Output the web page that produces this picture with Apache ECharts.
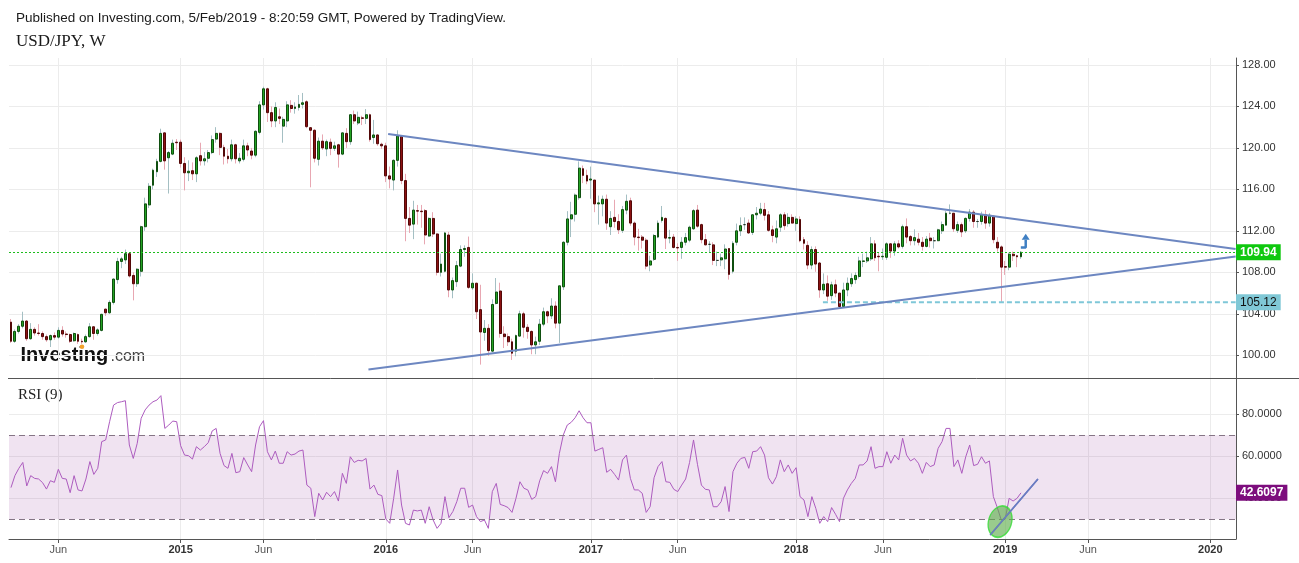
<!DOCTYPE html>
<html><head><meta charset="utf-8">
<script src="https://cdn.jsdelivr.net/npm/echarts@6/dist/echarts.min.js"></script>
<style>html,body{margin:0;padding:0;background:#fff}#c{width:1299px;height:563px}</style>
</head><body><div id="c"></div>
<script>
// ---------- data (weekly USD/JPY, first bar = week of 2014-03-10) ----------
const startDate = '2014-03-10';
const totalWeeks = 311; // categories incl. empty future weeks up to early 2020
const opens = [103.2,101.35,102.3,102.8,103.3,101.6,102.5,102.15,102.1,101.8,
101.5,101.9,101.75,102.4,102.05,102.0,101.4,102.0,101.35,101.3,
101.8,102.75,102.1,102.4,104.45,104.1,105.1,107.3,109.05,109.2,
109.8,107.7,106.9,108.1,112.4,114.5,116.4,117.7,118.7,121.45,
119.05,119.4,120.55,120.55,118.5,117.6,117.8,117.5,119.25,118.75,
119.0,119.55,120.85,121.4,120.05,119.2,118.95,120.3,118.75,118.9,
120.2,119.7,119.3,121.5,124.15,125.7,123.4,122.6,123.0,122.1,
122.6,124.1,123.8,123.9,124.2,124.45,121.95,121.7,118.9,120.65,
119.9,120.55,119.95,120.3,119.4,121.4,120.6,123.2,122.4,122.9,
122.85,123.2,121.0,121.25,120.35,120.2,117.3,116.9,118.8,121.1,
116.85,113.2,112.65,113.95,113.9,113.95,111.5,113.2,111.7,108.0,
108.1,111.6,106.3,107.1,108.6,110.2,110.4,106.5,106.95,104.4,
102.2,102.6,100.4,105.0,106.2,102.05,101.8,101.3,100.4,101.85,
104.0,102.7,102.3,101.0,101.35,103.0,104.2,103.8,104.75,103.1,
106.6,110.9,113.15,113.6,115.2,118.0,117.35,116.9,116.9,114.6,
114.6,115.05,112.4,113.3,112.9,112.05,114.0,114.9,112.75,111.4,
111.4,111.1,108.7,109.25,111.4,113.0,113.2,111.3,111.4,110.4,
110.4,110.9,111.1,112.2,114.0,112.6,111.15,110.7,110.65,109.15,
109.2,109.3,110.3,108.1,110.9,112.0,112.6,112.75,111.85,113.55,
113.7,114.05,113.55,112.1,111.4,112.35,113.55,112.7,113.3,112.7,
113.1,111.15,110.6,108.7,110.2,108.9,106.3,106.9,105.75,106.8,
106.0,104.7,106.3,106.9,107.3,107.6,109.05,109.1,109.3,110.75,
109.55,109.5,109.45,110.75,110.05,110.75,110.5,112.4,111.45,111.05,
111.2,110.9,110.5,111.3,111.05,111.05,112.0,112.55,113.7,113.7,
112.05,112.6,112.0,113.2,113.8,112.9,112.9,113.55,112.75,113.4,
110.9,110.45,108.55,108.5,109.75,109.6,109.5];
const closes = [101.35,102.3,102.8,103.3,101.6,102.5,102.15,102.1,101.8,101.5,
101.9,101.75,102.4,102.05,102.0,101.35,102.1,101.35,101.3,101.8,
102.75,102.1,102.45,103.95,104.1,105.1,107.35,109.05,109.3,109.8,
107.65,106.9,108.3,112.4,114.6,116.3,117.85,118.7,121.4,118.75,
119.55,120.45,120.5,118.5,117.6,117.75,117.5,119.05,118.75,118.95,
119.55,120.8,121.4,120.05,119.2,118.95,120.3,118.95,119.0,120.2,
119.8,119.3,121.6,124.15,125.7,123.4,122.6,123.9,122.85,122.75,
124.15,123.8,123.95,124.2,124.35,122.05,121.7,119.0,120.65,120.0,
120.6,119.95,120.2,119.4,121.45,120.6,123.2,122.6,122.95,122.85,
123.2,120.8,121.25,120.4,120.2,117.3,117.0,118.8,121.15,116.85,
113.2,112.55,114.0,113.9,113.85,111.6,113.2,111.7,108.0,108.8,
111.8,106.3,107.2,108.65,110.2,110.3,106.55,106.95,104.2,102.25,
102.6,100.45,104.9,106.1,102.1,101.8,101.3,100.2,101.9,104.0,
102.7,102.3,101.0,101.3,103.0,104.2,103.8,104.75,103.1,106.7,
110.9,113.15,113.55,115.45,118.05,117.35,116.8,117.0,114.6,114.7,
115.05,112.75,113.2,112.9,112.1,114.05,114.85,112.75,111.4,111.35,
111.1,108.6,109.1,111.55,112.75,113.3,111.3,111.35,110.4,110.35,
110.9,111.35,112.35,113.95,112.45,111.15,110.65,110.7,109.15,109.15,
109.4,110.25,107.8,110.8,112.0,112.5,112.6,111.8,113.55,113.7,
114.1,113.5,112.05,111.55,112.2,113.55,112.5,113.3,112.75,113.15,
111.05,110.8,108.7,110.2,108.8,106.3,106.85,105.7,106.8,106.0,
104.7,106.3,106.95,107.4,107.7,109.1,109.1,109.4,110.75,109.4,
109.5,109.55,110.75,110.05,110.75,110.45,112.4,111.4,111.05,111.35,
110.9,110.5,111.2,111.05,111.05,112.1,112.6,113.7,113.7,112.2,
112.6,111.9,113.2,113.8,112.9,112.9,113.55,112.75,113.5,111.15,
110.35,108.5,108.5,109.75,109.6,109.5,109.94];
const lows = [101.2,101.2,102.1,102.6,101.4,101.5,101.9,101.9,101.5,101.3,
100.8,101.5,101.6,101.8,101.7,101.2,101.3,101.1,101.1,101.2,
101.7,101.5,101.9,102.3,103.8,104.0,104.9,106.9,108.4,108.8,
107.5,105.3,106.6,107.6,112.0,114.2,116.0,117.2,118.6,117.9,
115.6,119.3,119.8,118.1,115.9,116.8,116.9,116.7,118.3,118.3,
118.6,119.4,120.5,119.3,118.4,118.5,118.7,118.5,118.5,118.7,
119.2,118.9,119.1,121.3,123.7,122.5,122.0,122.0,122.3,120.5,
122.0,123.4,123.3,123.6,123.8,121.9,116.2,118.6,118.3,119.8,
119.2,119.3,119.7,118.1,119.3,120.0,120.3,122.3,122.2,122.2,
122.3,120.6,120.4,120.2,119.9,116.7,116.1,115.9,118.2,116.5,
111.0,111.8,111.2,112.6,112.3,110.7,111.4,111.4,107.7,107.6,
108.0,105.6,105.5,106.6,108.5,109.5,106.4,106.3,103.5,99.1,
101.4,99.95,100.3,104.9,101.7,100.7,100.9,99.55,99.9,101.8,
101.7,101.6,100.1,100.1,101.0,102.8,103.1,103.5,102.6,101.2,
106.3,110.6,111.4,112.9,115.0,116.6,116.5,115.1,113.8,112.6,
113.4,112.1,111.6,112.3,111.7,111.8,113.6,112.5,110.6,110.1,
110.3,108.3,108.1,109.1,111.3,112.8,110.25,110.8,110.3,109.1,
109.3,110.6,110.9,112.1,112.3,110.8,110.6,109.9,108.7,108.6,
108.6,108.3,107.3,107.9,110.6,111.5,112.1,111.7,111.6,113.1,
113.5,113.0,111.9,110.9,110.8,111.9,112.1,112.4,112.7,112.0,
110.9,110.2,108.3,108.3,108.05,105.55,105.9,105.25,105.35,105.6,
104.6,104.6,105.7,106.6,106.9,107.4,108.5,108.9,109.1,109.1,
108.1,109.2,109.2,109.4,109.6,110.3,110.3,110.8,110.6,110.6,
110.6,110.1,110.4,110.4,110.3,111.0,111.7,112.5,113.6,111.9,
111.8,111.4,111.8,112.9,112.3,112.3,112.6,112.2,112.4,110.8,
110.0,105.12,107.75,108.2,109.1,108.5,109.3];
const highs = [103.5,102.5,103.0,104.2,103.4,103.1,102.7,103.0,102.3,102.0,
102.0,102.2,102.7,102.8,102.3,102.1,102.2,102.1,101.6,102.0,
103.1,102.8,102.6,104.0,104.5,105.3,107.4,109.4,109.5,110.2,
109.8,108.0,108.4,112.5,115.2,116.6,118.0,118.95,121.85,121.5,
119.7,120.8,120.85,120.8,119.1,118.8,118.6,119.2,120.5,119.6,
119.8,121.2,122.0,121.5,120.3,119.9,120.8,120.4,119.5,120.8,
120.5,120.0,121.7,124.5,125.9,125.8,124.0,124.4,123.8,123.0,
124.5,124.6,124.4,125.1,125.3,124.6,122.0,121.8,121.0,121.3,
120.8,120.9,120.6,120.4,121.5,121.9,123.25,123.6,123.5,123.1,
123.75,123.3,122.7,121.3,120.5,120.5,118.2,118.9,121.7,121.1,
117.5,114.3,114.9,114.5,114.5,114.1,113.3,113.8,111.8,109.8,
111.9,111.9,107.5,109.1,110.6,110.6,111.45,107.9,107.0,106.8,
103.4,103.0,105.4,107.45,107.0,102.8,102.1,101.6,102.0,104.3,
104.2,103.0,102.4,101.8,103.5,104.6,104.3,105.5,105.2,106.7,
111.0,113.9,114.8,115.6,118.7,118.3,117.9,118.2,116.9,115.4,
115.4,115.5,113.9,115.0,113.6,114.4,115.5,115.2,112.9,112.2,
111.6,111.3,109.6,111.7,113.0,114.4,113.3,112.1,111.7,110.8,
111.4,111.8,112.5,114.1,114.5,112.7,111.7,111.0,110.9,110.0,
109.8,110.7,110.3,111.0,112.7,113.3,113.3,113.1,113.6,114.3,
114.7,114.7,113.9,112.5,113.0,113.7,113.8,113.7,113.6,113.4,
113.4,111.4,111.0,110.5,110.5,109.0,107.9,107.7,107.1,107.3,
106.0,107.0,107.5,107.9,108.0,109.5,109.8,110.0,111.4,111.1,
109.9,110.3,110.9,110.8,111.0,111.1,112.6,113.2,111.6,112.15,
111.8,111.4,111.5,111.8,111.4,112.2,112.9,113.9,114.55,113.7,
112.9,112.8,113.3,114.1,114.0,113.15,113.85,114.0,113.7,113.5,
111.4,110.6,109.1,109.9,110.0,109.7,110.05];
const rsi = [45.1,50.8,54.3,57.1,45.9,50.8,49.5,49.2,47.5,44.4,
48.4,47.6,53.8,49.5,49.2,42.7,50.8,44.0,43.5,49.2,
57.5,51.4,54.3,67.0,67.8,76.5,84.4,85.6,86.0,86.5,
65.4,59.0,66.2,78.1,82.1,84.4,86.0,86.8,88.9,73.3,
74.9,76.8,76.5,65.1,60.6,60.3,58.7,64.6,63.0,64.6,
66.5,72.1,73.3,61.4,55.6,54.3,61.4,52.2,52.7,59.4,
55.9,52.7,65.4,74.1,77.0,62.2,58.3,62.5,56.7,56.7,
62.2,60.6,61.1,62.5,63.0,46.3,44.8,31.3,42.4,39.2,
42.9,40.8,43.2,38.7,51.9,47.1,59.8,57.1,58.1,57.8,
59.0,44.4,46.3,41.9,41.3,30.2,28.1,40.0,53.5,36.8,
28.1,27.3,34.4,34.0,34.4,28.1,36.0,29.7,25.7,28.1,
40.8,30.8,33.7,38.4,44.8,44.8,35.7,36.8,31.3,28.9,
29.7,25.7,43.2,47.1,37.1,36.5,35.6,33.3,40.0,47.9,
44.8,44.0,39.5,40.8,48.3,53.2,51.9,55.1,47.9,61.4,
70.2,74.9,76.2,78.4,81.7,78.4,76.0,76.0,62.5,63.3,
64.1,52.4,53.8,51.4,48.7,58.3,60.6,49.5,44.0,44.0,
42.4,33.3,36.0,49.8,55.1,57.5,47.9,47.6,44.3,43.2,
46.3,49.2,57.1,67.8,56.2,46.3,44.3,44.0,36.0,36.0,
38.4,45.6,33.7,52.7,56.7,59.0,59.5,54.3,62.2,62.5,
64.6,60.6,49.8,46.8,50.3,58.3,52.7,55.9,51.9,54.6,
40.8,39.2,31.3,40.8,35.2,28.1,31.3,28.9,35.6,32.4,
28.9,40.0,44.0,47.1,49.5,55.9,55.9,57.8,64.6,54.3,
55.1,55.1,62.2,56.7,60.6,58.3,68.6,60.6,57.8,59.0,
56.7,51.9,57.1,55.1,55.9,63.8,67.0,73.3,73.3,55.1,
58.3,51.9,59.8,65.4,55.6,56.2,59.8,56.7,57.8,40.8,
35.6,29.7,30.2,40.0,38.7,40.0,42.6097];
const priceTicks = [100,104,108,112,116,120,124,128];
const rsiTicks = [40,60,80];
const rsiBand = [30,70];
const lastPrice = 109.94;
const supportLevel = 105.12;
const lastRsi = 42.6097;
// drawn annotations, in [week index, value]
const upperTrend = [[95.6,121.35],[310.4,110.24]];
const lowerTrend = [[90.6,98.64],[310.4,109.53]];
const supportSeg = [[205.8,105.12],[310.4,105.12]];
const returnIcon = [[255.96,110.4],[257.2,110.4],[257.2,111.15]];
const returnIconTip = [257.2,111.42];
const rsiArrow = [[248.2,22.5],[260.3,49.2]];
const rsiCircle = [250.7,28.9];

// ---------- chart ----------
const cats = [];
const d0 = Date.UTC(2014,2,10);
for (let i = 0; i < totalWeeks; i++) cats.push(new Date(d0 + i*7*86400000).toISOString().slice(0,10));
const isTick = (idx, v) => { const m = +v.slice(5,7), d = +v.slice(8,10); return d <= 7 && (m === 1 || m === 6); };
const font = "'Liberation Sans', Arial, sans-serif";
const gridCol = '#ececec', axisCol = '#555';
const bodyData = opens.map((o,i)=>[o, closes[i], Math.min(o,closes[i]), Math.max(o,closes[i])]);
const wickData = opens.map((o,i)=>[o, closes[i], lows[i], highs[i]]);
const trendCol = '#6d87c1';
const clear = 'rgba(0,0,0,0)';
const tag = (txt, bg, fg, bold) => ({show:true, position:'end', distance:0, formatter:()=>txt, backgroundColor:bg, color:fg,
  fontFamily:font, fontSize:12, fontWeight:bold?'bold':'normal', padding:[2,4,1,4], lineHeight:13});

const chart = echarts.init(document.getElementById('c'), null, {width:1299, height:563});
chart.setOption({
  animation:false,
  backgroundColor:'#fff',
  grid:[
    {left:9, right:63, top:58, height:320, containLabel:false, outerBoundsMode:'none'},
    {left:9, right:63, top:379, height:160, containLabel:false, outerBoundsMode:'none'}
  ],
  xAxis:[
    {type:'category', gridIndex:0, data:cats, boundaryGap:true,
     axisLine:{show:false, onZero:false}, axisTick:{show:false}, axisLabel:{show:false},
     splitLine:{show:true, interval:isTick, alignWithLabel:true, lineStyle:{color:gridCol}}},
    {type:'category', gridIndex:1, data:cats, boundaryGap:true,
     axisLine:{show:true, onZero:false, lineStyle:{color:axisCol}},
     axisTick:{show:true, interval:isTick, alignWithLabel:true, length:4, lineStyle:{color:axisCol}},
     axisLabel:{interval:isTick, margin:5, fontFamily:font, fontSize:11,
       formatter:v => (+v.slice(5,7) === 1) ? '{y|' + v.slice(0,4) + '}' : '{m|Jun}',
       rich:{y:{fontWeight:'bold', color:'#333', fontSize:11, fontFamily:font}, m:{color:'#555', fontSize:11, fontFamily:font}}},
     splitLine:{show:true, interval:isTick, alignWithLabel:true, lineStyle:{color:gridCol}}},
    {type:'value', gridIndex:0, show:false, min:-0.5, max:totalWeeks-0.5, axisLine:{onZero:false}},
    {type:'value', gridIndex:1, show:false, min:-0.5, max:totalWeeks-0.5, axisLine:{onZero:false}}
  ],
  yAxis:[
    {type:'value', gridIndex:0, position:'right', min:97.81, max:128.67, scale:true,
     axisLine:{show:true, onZero:false, lineStyle:{color:axisCol}},
     axisTick:{show:true, length:3, customValues:priceTicks, lineStyle:{color:axisCol}},
     axisLabel:{customValues:priceTicks, formatter:v=>v.toFixed(2), color:'#333', fontSize:11, margin:6, fontFamily:font},
     splitLine:{show:true, lineStyle:{color:gridCol}}},
    {type:'value', gridIndex:1, position:'right', min:20.63, max:96.83, scale:true,
     axisLine:{show:true, onZero:false, lineStyle:{color:axisCol}},
     axisTick:{show:true, length:3, customValues:rsiTicks, lineStyle:{color:axisCol}},
     axisLabel:{customValues:rsiTicks, formatter:v=>v.toFixed(4), color:'#333', fontSize:11, margin:6, fontFamily:font},
     splitLine:{show:true, lineStyle:{color:gridCol}}}
  ],
  series:[
    {type:'candlestick', xAxisIndex:0, yAxisIndex:0, data:wickData, barWidth:1, silent:true, z:2,
     itemStyle:{color:'#a4bfc3', color0:'#e8a7b2', borderColor:'#a4bfc3', borderColor0:'#e8a7b2', borderColorDoji:'#a4bfc3', borderWidth:1}},
    {type:'candlestick', xAxisIndex:0, yAxisIndex:0, data:bodyData, barWidth:2.4, silent:true, z:3,
     itemStyle:{color:'#23a323', color0:'#8c1212', borderColor:'#0f4f0f', borderColor0:'#520808', borderColorDoji:'#263626', borderWidth:1}},
    {type:'line', xAxisIndex:2, yAxisIndex:0, data:upperTrend, symbol:'none', silent:true, clip:false, z:5,
     lineStyle:{color:trendCol, width:2},
     markLine:{silent:true, symbol:'none', animation:false,
       data:[{yAxis:lastPrice, lineStyle:{color:'#1dbd1d', type:[2,2], width:1}, label:tag(lastPrice.toFixed(2),'#0fc80f','#fff',true)}]}},
    {type:'line', xAxisIndex:2, yAxisIndex:0, data:lowerTrend, symbol:'none', silent:true, clip:false, z:5,
     lineStyle:{color:trendCol, width:2}},
    {type:'line', xAxisIndex:2, yAxisIndex:0, data:supportSeg, symbol:'none', silent:true, clip:false, z:4,
     lineStyle:{color:'#7fc7d8', width:2, type:[5,3]},
     markLine:{silent:true, symbol:'none', animation:false,
       data:[{yAxis:supportLevel, lineStyle:{color:clear, width:1}, label:tag(supportLevel.toFixed(2),'#80c8d6','#111',false)}]}},
    {type:'line', xAxisIndex:2, yAxisIndex:0, data:returnIcon, symbol:'none', silent:true, z:6,
     lineStyle:{color:'#3f7fc3', width:2.5},
     markPoint:{silent:true, animation:false, data:[{coord:returnIconTip, symbol:'triangle', symbolSize:[8,6], itemStyle:{color:'#3f7fc3'}, label:{show:false}}]}},
    {type:'line', xAxisIndex:1, yAxisIndex:1, data:rsi, symbol:'none', silent:true, clip:false, z:3,
     lineStyle:{color:'#ad5cbf', width:1},
     markArea:{silent:true, animation:false, itemStyle:{color:'rgba(150,60,160,0.145)'}, data:[[{yAxis:rsiBand[0]},{yAxis:rsiBand[1]}]]},
     markLine:{silent:true, symbol:'none', animation:false,
       data:[
         {yAxis:rsiBand[1], lineStyle:{color:'#857585', type:[6,4], width:1}, label:{show:false}},
         {yAxis:rsiBand[0], lineStyle:{color:'#857585', type:[6,4], width:1}, label:{show:false}},
         {yAxis:lastRsi, lineStyle:{color:clear, width:1}, label:tag(lastRsi.toFixed(4),'#7d0d7d','#fff',true)}
       ]}},
    {type:'scatter', xAxisIndex:3, yAxisIndex:1, data:[rsiCircle], symbol:'circle', symbolSize:[23,32], symbolRotate:-18, silent:true, z:6,
     itemStyle:{color:'rgba(92,172,72,0.78)', borderColor:'#35dc35', borderWidth:1.5}},
    {type:'line', xAxisIndex:3, yAxisIndex:1, data:rsiArrow, symbol:'none', silent:true, z:7,
     lineStyle:{color:'#6a7cc2', width:1.5},
     markLine:{silent:true, symbol:['none','arrow'], symbolSize:[0,9], animation:false, label:{show:false},
       lineStyle:{color:'#6a7cc2', width:1.5, type:'solid'},
       data:[[{coord:rsiArrow[0]},{coord:rsiArrow[1]}]]}}
  ],
  graphic:[
    {type:'text', x:16, y:18.3, style:{text:'Published on Investing.com, 5/Feb/2019 - 8:20:59 GMT, Powered by TradingView.', font:"13.5px 'Liberation Sans', Arial, sans-serif", fill:'#1a1a1a', verticalAlign:'middle'}},
    {type:'text', x:16, y:41.4, style:{text:'USD/JPY, W', font:"17px 'Liberation Serif', 'Times New Roman', serif", fill:'#1a1a1a', verticalAlign:'middle'}},
    {type:'text', x:18, y:394.7, style:{text:'RSI (9)', font:"15px 'Liberation Serif', 'Times New Roman', serif", fill:'#222', verticalAlign:'middle'}},
    {type:'text', x:20.5, y:355, style:{text:'Investing', font:"bold 20px 'Liberation Sans', Arial, sans-serif", fill:'#111', verticalAlign:'middle'}},
    {type:'text', x:110.5, y:356.4, style:{text:'.com', font:"16px 'Liberation Sans', Arial, sans-serif", fill:'#444', verticalAlign:'middle'}},
    {type:'circle', shape:{cx:82, cy:346.8, r:2.3}, style:{fill:'#f2a12b'}},
    {type:'line', shape:{x1:8, y1:378.5, x2:1299, y2:378.5}, style:{stroke:'#555', lineWidth:1}, z:100}
  ]
});
</script></body></html>
